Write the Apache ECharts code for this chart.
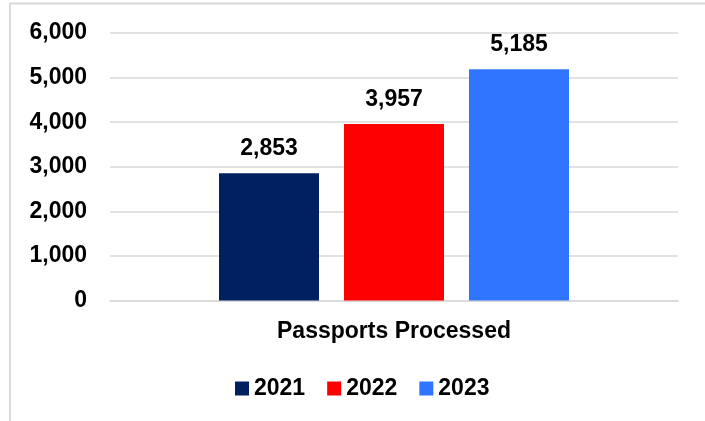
<!DOCTYPE html>
<html>
<head>
<meta charset="utf-8">
<script src="https://cdn.jsdelivr.net/npm/echarts@6/dist/echarts.min.js"></script>
<style>
html,body{margin:0;padding:0;background:#fff;}
#chart{width:705px;height:421px;}
</style>
</head>
<body>
<div id="chart"></div>
<script>
var categories = ['Passports Processed'];
var seriesNames = ['2021', '2022', '2023'];
var values2021 = [2853];
var values2022 = [3957];
var values2023 = [5185];
var seriesColors = ['#002060', '#FF0000', '#3075FF'];
var yMin = 0, yMax = 6000, yInterval = 1000;

var FONT = '"Liberation Sans", Arial, sans-serif';
var chart = echarts.init(document.getElementById('chart'), null, {renderer: 'canvas'});
var allValues = [values2021, values2022, values2023];

var series = seriesNames.map(function (name, i) {
  return {
    name: name,
    type: 'bar',
    data: allValues[i],
    barWidth: 100,
    barGap: '25%',
    itemStyle: {color: seriesColors[i]},
    label: {
      show: true,
      position: 'top',
      distance: 13,
      color: '#000',
      fontFamily: FONT,
      fontWeight: 'bold',
      fontSize: 23,
      formatter: function (p) { return p.value.toLocaleString('en-US'); }
    }
  };
});

chart.setOption({
  animation: false,
  backgroundColor: '#fff',
  textStyle: {fontFamily: FONT},
  graphic: [{
    type: 'rect',
    shape: {x: 10, y: 3.5, width: 720, height: 440},
    style: {fill: 'none', stroke: '#d9d9d9', lineWidth: 2},
    silent: true
  }],
  grid: {left: 110, right: 27, top: 33, bottom: 120.5, containLabel: false},
  legend: {
    data: seriesNames,
    left: 230,
    top: 372,
    itemWidth: 14,
    itemHeight: 14,
    itemGap: 22,
    icon: 'rect',
    textStyle: {fontFamily: FONT, fontWeight: 'bold', fontSize: 23, color: '#000'}
  },
  xAxis: {
    type: 'category',
    data: categories,
    axisLine: {show: true, lineStyle: {color: '#d9d9d9', width: 1.5}},
    axisTick: {show: false},
    axisLabel: {color: '#000', fontFamily: FONT, fontWeight: 'bold', fontSize: 23, margin: 20}
  },
  yAxis: {
    type: 'value',
    min: yMin,
    max: yMax,
    interval: yInterval,
    axisLine: {show: false},
    axisTick: {show: false},
    splitLine: {lineStyle: {color: '#d9d9d9', width: 1.5}},
    axisLabel: {
      color: '#000', fontFamily: FONT, fontWeight: 'bold', fontSize: 23, margin: 23,
      formatter: function (v) { return v.toLocaleString('en-US'); }
    }
  },
  series: series
});
</script>
</body>
</html>
